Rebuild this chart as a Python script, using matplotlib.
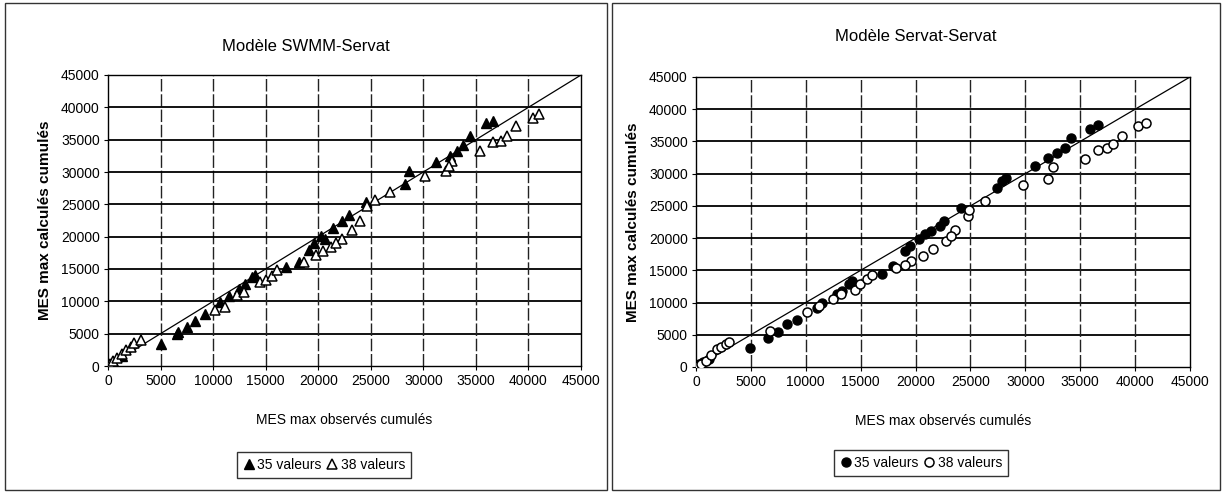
import matplotlib
matplotlib.use("Agg")
import matplotlib.pyplot as plt
from matplotlib.patches import Rectangle

plt.rcParams['font.family'] = ['Liberation Sans', 'DejaVu Sans']

# --- data ---
axis_ticks = [0, 5000, 10000, 15000, 20000, 25000, 30000, 35000, 40000, 45000]
ident_line = [0, 45000]

# Modele SWMM-Servat
swmm_35_obs = [100, 300, 500, 1300, 5000, 6600, 6700, 7500, 8300, 9200, 10700, 11500,
               12500, 13000, 13700, 14000, 16900, 18200, 19100, 19600, 20600, 20300,
               21400, 22300, 22900, 24500, 28300, 28600, 31200, 32500, 33200, 33800,
               34400, 36000, 36600]
swmm_35_calc = [100, 300, 600, 1600, 3400, 5000, 5300, 6000, 7000, 8000, 9900, 10900,
                11900, 12700, 13700, 14100, 15300, 16100, 17900, 19000, 19700, 20100,
                21300, 22500, 23300, 25300, 28200, 30200, 31500, 32500, 33300, 34100,
                35600, 37600, 37900]
swmm_38_obs = [200, 500, 900, 1300, 1700, 2200, 2500, 3100, 10200, 11100, 12300, 12900,
               14500, 15000, 15600, 16100, 18600, 19800, 21200, 22300, 23200, 24000,
               25400, 26800, 20500, 21700, 24600, 30200, 32200, 32700, 32400, 35400,
               36600, 37400, 38000, 38800, 40400, 41000]
swmm_38_calc = [300, 700, 1200, 1900, 2500, 3000, 3500, 4000, 8600, 9200, 11000, 11400,
                13000, 13300, 13900, 14800, 16100, 17100, 18400, 19700, 21000, 22500,
                25600, 26900, 17800, 19000, 24800, 29400, 30200, 31700, 31000, 33300,
                34600, 34800, 35600, 37100, 38400, 39000]

# Modele Servat-Servat
servat_35_obs = [0, 300, 600, 1200, 4900, 6600, 7500, 8300, 9200, 11000, 11500, 12800,
                 13300, 13900, 14200, 16900, 17900, 19000, 19500, 20300, 20900, 21400,
                 22200, 22600, 24100, 27400, 27900, 28200, 30900, 32100, 32900, 33600,
                 34200, 35900, 36600]
servat_35_calc = [0, 400, 800, 1300, 3000, 4500, 5500, 6600, 7300, 9100, 10000, 11300,
                  11800, 12900, 13300, 14500, 15700, 18000, 18800, 19800, 20600, 21100,
                  21900, 22700, 24600, 27800, 28900, 29400, 31200, 32500, 33200, 34000,
                  35600, 36900, 37600]
servat_38_obs = [200, 500, 900, 1400, 1900, 2300, 2700, 3000, 6700, 10100, 11200, 12500,
                 13200, 14500, 14900, 15600, 16000, 18200, 19600, 20700, 21600, 22800,
                 23600, 24800, 24900, 26300, 29800, 19000, 23200, 32100, 32500, 35400,
                 36600, 37400, 38000, 38800, 40300, 41000]
servat_38_calc = [200, 500, 1000, 1800, 2800, 3100, 3600, 3900, 5600, 8500, 9500, 10600,
                  11400, 12000, 12900, 13600, 14200, 15400, 16400, 17200, 18300, 19600,
                  21300, 23400, 24400, 25700, 28300, 15800, 20300, 29200, 31000, 32300,
                  33600, 34000, 34600, 35900, 37400, 37900]

W, H = 1224, 493
fig = plt.figure(figsize=(W / 100, H / 100), dpi=100)


def px_axes(x0, y0, x1, y1):
    return fig.add_axes([x0 / W, 1 - y1 / H, (x1 - x0) / W, (y1 - y0) / H])


def setup(ax):
    ax.set_xlim(0, 45000)
    ax.set_ylim(0, 45000)
    ax.set_xticks(axis_ticks)
    ax.set_yticks(axis_ticks)
    ax.tick_params(labelsize=10, length=3, width=0.8, pad=3)
    for sp in ax.spines.values():
        sp.set_linewidth(1.0)
        sp.set_color('black')
    for t in axis_ticks[1:-1]:
        ax.axhline(t, color='black', lw=1.3, zorder=1)
        ax.axvline(t, color='#222222', lw=1.0, ls=(0, (9, 2)), zorder=1)
    ax.plot(ident_line, ident_line, color='black', lw=0.9, zorder=2)
    ax.set_xlabel('MES max observés cumulés', fontsize=10, labelpad=18)
    ax.set_ylabel('MES max calculés cumulés', fontsize=11, fontweight='bold', labelpad=6)


# left panel
ax1 = px_axes(108, 75, 581, 366)
setup(ax1)
ax1.set_title('Modèle SWMM-Servat', fontsize=12, x=(306 - 108) / (581 - 108), pad=17)
f1, = ax1.plot(swmm_35_obs, swmm_35_calc, ls='none', marker='^', ms=6.5,
               mfc='black', mec='black', zorder=3)
o1, = ax1.plot(swmm_38_obs, swmm_38_calc, ls='none', marker='^', ms=6.5,
               mfc='white', mec='black', mew=1.1, zorder=3)
leg1 = fig.legend([f1, o1], ['35 valeurs', '38 valeurs'], loc='center',
                  bbox_to_anchor=(324 / W, 1 - 465 / H), ncol=2, fontsize=10,
                  frameon=True, fancybox=False, edgecolor='black', handlelength=0.8,
                  handletextpad=0.2, columnspacing=0.4, borderpad=0.4)
leg1.get_frame().set_linewidth(1.0)

# right panel
ax2 = px_axes(696, 77, 1190, 367)
setup(ax2)
ax2.set_title('Modèle Servat-Servat', fontsize=12, x=(916 - 696) / (1190 - 696), pad=26)
f2, = ax2.plot(servat_35_obs, servat_35_calc, ls='none', marker='o', ms=6.5,
               mfc='black', mec='black', zorder=3)
o2, = ax2.plot(servat_38_obs, servat_38_calc, ls='none', marker='o', ms=6.5,
               mfc='white', mec='black', mew=1.1, zorder=3)
leg2 = fig.legend([f2, o2], ['35 valeurs', '38 valeurs'], loc='center',
                  bbox_to_anchor=(921 / W, 1 - 463 / H), ncol=2, fontsize=10,
                  frameon=True, fancybox=False, edgecolor='black', handlelength=0.8,
                  handletextpad=0.2, columnspacing=0.4, borderpad=0.4)
leg2.get_frame().set_linewidth(1.0)

# panel borders
for x0, x1 in [(5, 607), (612, 1220)]:
    fig.add_artist(Rectangle((x0 / W, 1 - 490 / H), (x1 - x0) / W, 487 / H,
                             transform=fig.transFigure, fill=False,
                             edgecolor='#333333', lw=1.0))

fig.savefig('out.png', dpi=100)
